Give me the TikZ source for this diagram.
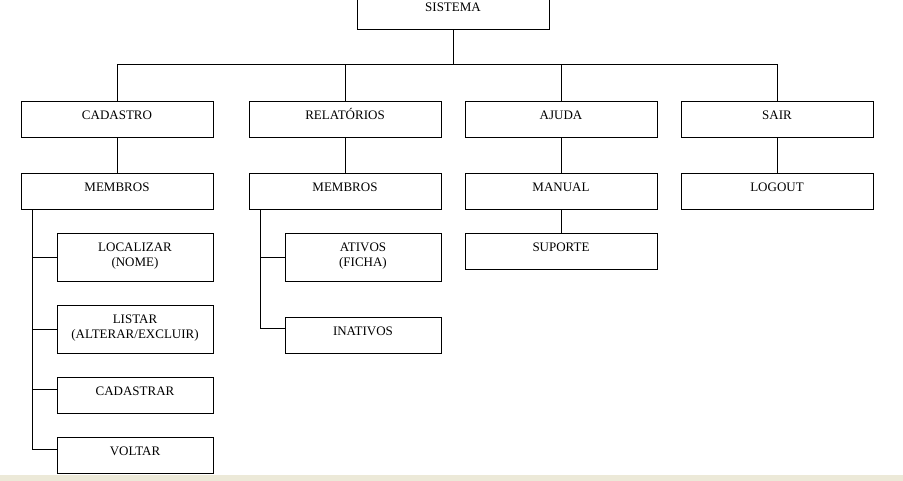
\documentclass[tikz,border=0pt]{standalone}
\usepackage{fontspec}
\setmainfont{Liberation Serif}
\usepackage{tikz}
\usetikzlibrary{positioning}
\definecolor{barra}{RGB}{236,233,216}
\tikzstyle{caixa} = [rectangle, draw = black, line width=1pt, anchor=north, inner sep=0pt, minimum width=192pt, text height=18pt, text depth=18pt, align=center, font=\fontsize{13}{15}\selectfont]
\tikzstyle{sub} = [caixa, minimum width=156pt]
\tikzstyle{alta} = [text height=33pt, text depth=15pt]
\tikzstyle{linha} = [-, line width=1pt]

\begin{document}
\begin{tikzpicture}[x=1pt, y=-1pt]
          \clip (0,0) rectangle (903,481);
          \useasboundingbox (0,0) rectangle (903,481);
          \fill[barra] (0,475) rectangle (903,481);

          \node[caixa] (sistema) at (453,-7) {SISTEMA};
          \coordinate (bus) at (453,65);

          \node[caixa] (cadastro) at (117,101) {CADASTRO};
          \node[caixa] (relatorios) at (345,101) {RELATÓRIOS};
          \node[caixa] (ajuda) at (561,101) {AJUDA};
          \node[caixa] (sair) at (777,101) {SAIR};

          \node[caixa] (membros1) at (117,173) {MEMBROS};
          \node[caixa] (membros2) at (345,173) {MEMBROS};
          \node[caixa] (manual) at (561,173) {MANUAL};
          \node[caixa] (logout) at (777,173) {LOGOUT};
          \node[caixa] (suporte) at (561,233) {SUPORTE};

          \node[sub, alta] (localizar) at (135,233) {LOCALIZAR\\(NOME)};
          \node[sub, alta] (listar) at (135,305) {LISTAR\\(ALTERAR/EXCLUIR)};
          \node[sub] (cadastrar) at (135,377) {CADASTRAR};
          \node[sub] (voltar) at (135,437) {VOLTAR};

          \node[sub, alta] (ativos) at (363,233) {ATIVOS\\(FICHA)};
          \node[sub] (inativos) at (363,317) {INATIVOS};

          % menu principal
          \draw[linha] (sistema.south) -- (bus);
          \foreach \m in {cadastro, relatorios, ajuda, sair}
            \draw[linha] (\m.north) |- (bus);

          \draw[linha] (cadastro) -- (membros1);
          \draw[linha] (relatorios) -- (membros2);
          \draw[linha] (ajuda) -- (manual);
          \draw[linha] (manual) -- (suporte);
          \draw[linha] (sair) -- (logout);

          % submenus de membros
          \draw[linha] ([xshift=12pt]membros1.south west) |- (localizar.west);
          \draw[linha] ([xshift=12pt]membros1.south west) |- (listar.west);
          \draw[linha] ([xshift=12pt]membros1.south west) |- ([yshift=-12pt]cadastrar.north west);
          \draw[linha] ([xshift=12pt]membros1.south west) |- ([yshift=-12pt]voltar.north west);

          \draw[linha] ([xshift=12pt]membros2.south west) |- (ativos.west);
          \draw[linha] ([xshift=12pt]membros2.south west) |- ([yshift=-12pt]inativos.north west);
        \end{tikzpicture}
\end{document}
